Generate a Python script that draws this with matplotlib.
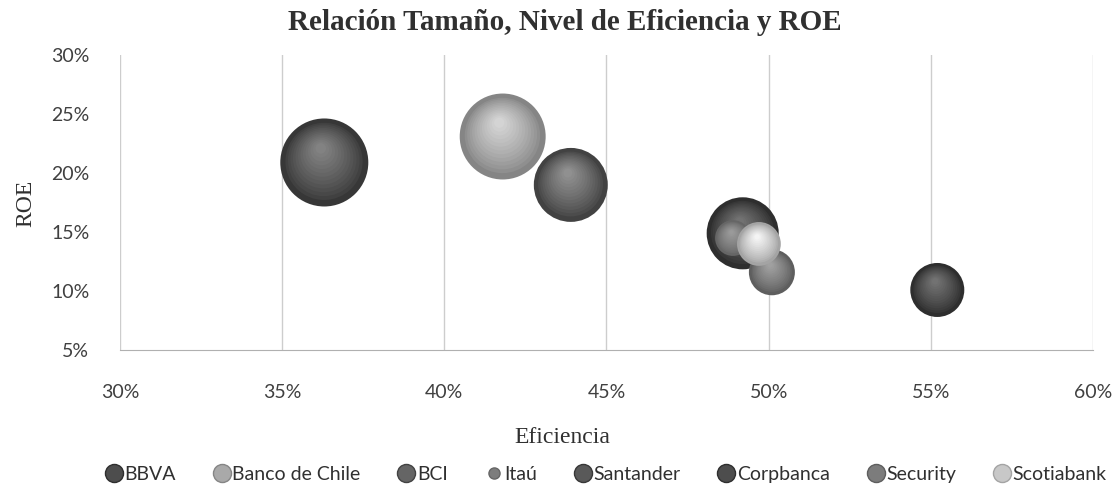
import matplotlib.pyplot as plt
import numpy as np
from matplotlib.lines import Line2D
from matplotlib.ticker import FuncFormatter, MultipleLocator
from matplotlib.transforms import offset_copy

# Datos
bancos = ['BBVA', 'Banco de Chile', 'BCI', 'Itaú', 'Santander', 'Corpbanca', 'Security', 'Scotiabank']
eficiencia = [49.2, 41.8, 43.9, 48.9, 36.3, 55.2, 50.1, 49.7]
roe = [14.9, 23.1, 19.0, 14.5, 20.9, 10.1, 11.6, 14.0]
tamano = [13.0, 18.5, 13.7, 3.2, 19.4, 7.3, 5.3, 4.8]

# tonos (borde oscuro, brillo) de cada esfera
tono_base = ['#2e2e2e', '#858585', '#424242', '#666666', '#373737', '#2e2e2e', '#5e5e5e', '#a4a4a4']
tono_brillo = ['#727272', '#d4d4d4', '#909090', '#9a9a9a', '#828282', '#727272', '#a0a0a0', '#f4f4f4']

serif = 'Liberation Serif'
sans = 'Lato'

fig = plt.figure(figsize=(11.17, 4.96), dpi=100)
ax = fig.add_axes([0.1074, 0.294, 0.8711, 0.595])


def mezcla(c1, c2, t):
    a = np.array(plt.matplotlib.colors.to_rgb(c1))
    b = np.array(plt.matplotlib.colors.to_rgb(c2))
    return tuple(a * (1 - t) + b * t)


k = 207.0
n = 14
for i in range(len(bancos)):
    s = tamano[i] * k
    r_pt = np.sqrt(s) / 2
    ax.scatter(eficiencia[i], roe[i], s=s, color=tono_base[i], edgecolors='none', zorder=3 + i)
    for j in range(1, n):
        t = j / (n - 1)
        f = 0.94 - 0.82 * t
        tr = offset_copy(ax.transData, fig=fig, x=-0.08 * r_pt * t, y=0.32 * r_pt * t, units='points')
        ax.scatter(eficiencia[i], roe[i], s=s * f * f, color=mezcla(tono_base[i], tono_brillo[i], t ** 0.8),
                   edgecolors='none', transform=tr, zorder=3 + i)

ax.set_xlim(30, 60)
ax.set_ylim(5, 30)
ax.xaxis.set_major_locator(MultipleLocator(5))
ax.yaxis.set_major_locator(MultipleLocator(5))
fmt = FuncFormatter(lambda v, _: '{:.0f}%'.format(v))
ax.xaxis.set_major_formatter(fmt)
ax.yaxis.set_major_formatter(fmt)
ax.grid(axis='x', color='#cdcdcd', linewidth=1, zorder=0)
ax.set_axisbelow(True)
for lado in ['top', 'right', 'left']:
    ax.spines[lado].set_visible(False)
ax.spines['bottom'].set_color('#b0b0b0')
ax.tick_params(axis='both', length=0, labelsize=14, labelcolor='#404040')
ax.tick_params(axis='x', pad=24)
ax.tick_params(axis='y', pad=22)
for lab in ax.get_xticklabels() + ax.get_yticklabels():
    lab.set_fontfamily(sans)

fig.text(0.503, 0.117, 'Eficiencia', ha='center', va='center',
         fontfamily=serif, fontsize=17, color='#303030')
fig.text(0.023, 0.59, 'ROE', ha='center', va='center', rotation=90,
         fontfamily=serif, fontsize=17, color='#303030')
fig.text(0.506, 0.955, 'Relación Tamaño, Nivel de Eficiencia y ROE', ha='center', va='center',
         fontfamily=serif, fontsize=21, fontweight='bold', color='#303030')

handles = []
for i in range(len(bancos)):
    ms = 8 if bancos[i] == 'Itaú' else 13
    handles.append(Line2D([], [], linestyle='none', marker='o', markersize=ms,
                          markerfacecolor=mezcla(tono_base[i], tono_brillo[i], 0.45),
                          markeredgecolor=tono_base[i], label=bancos[i]))
fig.legend(handles=handles, loc='center', bbox_to_anchor=(0.542, 0.043), ncol=8, frameon=False,
           handletextpad=0.05, columnspacing=1.85, handlelength=1.0,
           prop={'family': sans, 'size': 14}, labelcolor='#303030')

fig.savefig('out.png', dpi=100)
